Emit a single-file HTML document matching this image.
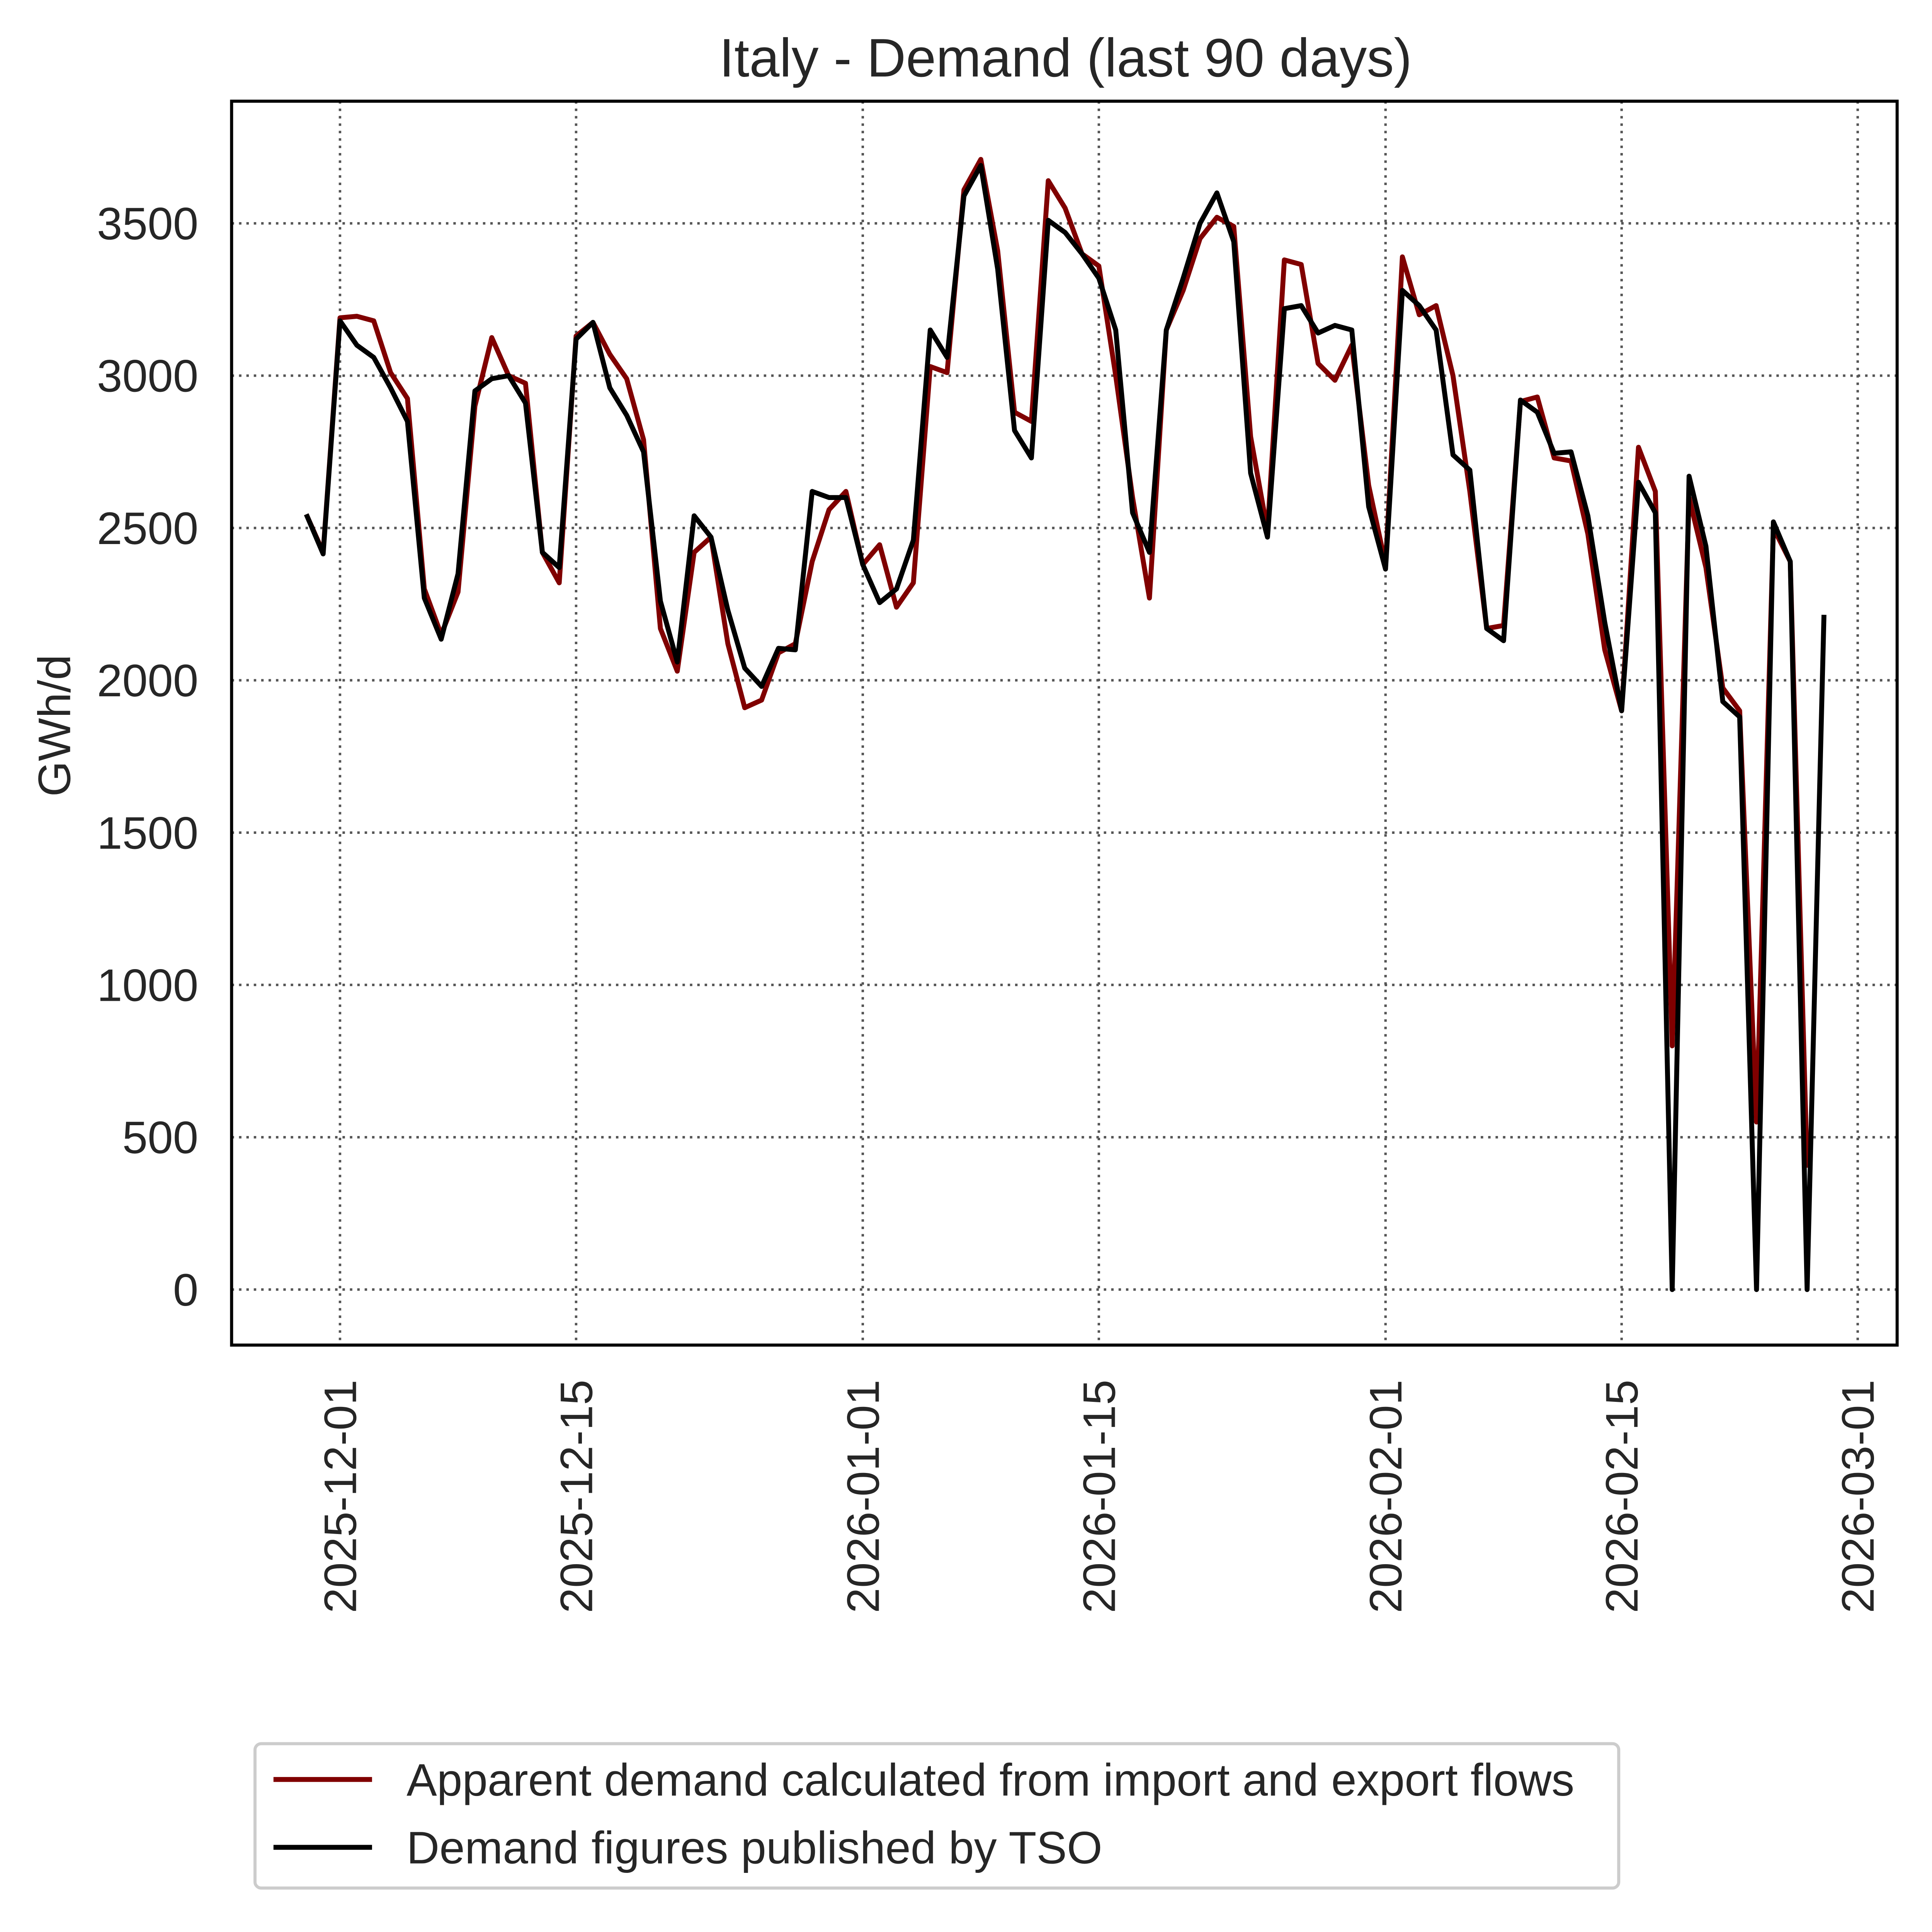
<!DOCTYPE html>
<html><head><meta charset="utf-8"><meta name="viewport" content="width=5749"><style>html,body{margin:0;padding:0;background:#fff;overflow:hidden}svg{display:block;width:98.96vw;height:98.62vw}text{font-family:"Liberation Sans",sans-serif;fill:#262626}</style></head>
<body>
<svg id="chart" viewBox="0 0 1552 1544" preserveAspectRatio="none" xmlns="http://www.w3.org/2000/svg">
<rect width="1552" height="1544" fill="#fff"/>
<text x="865" y="62" font-size="44" text-anchor="middle">Italy - Demand (last 90 days)</text>
<text transform="translate(57,588) rotate(-90)" font-size="37" text-anchor="middle">GWh/d</text>
<g id="grid"></g><g id="series"></g><g id="ticks"></g>
<rect x="188" y="82" width="1352" height="1008" fill="none" stroke="#000" stroke-width="2.5"/>
<g>
<rect x="207" y="1413" width="1107" height="117" rx="5" fill="#fff" stroke="#ccc" stroke-width="2.5"/>
<line x1="222" y1="1442" x2="302" y2="1442" stroke="#800000" stroke-width="4"/>
<text x="330" y="1455" font-size="37">Apparent demand calculated from import and export flows</text>
<line x1="222" y1="1497" x2="302" y2="1497" stroke="#000" stroke-width="4"/>
<text x="330" y="1510" font-size="37">Demand figures published by TSO</text>
</g>
</svg>
<script>
const yTicks=[0,500,1000,1500,2000,2500,3000,3500];
const xTickLabels=["2025-12-01","2025-12-15","2026-01-01","2026-01-15","2026-02-01","2026-02-15","2026-03-01"];
const xTickDays=[0,14,31,45,62,76,90];
const startDay=-2;
const tso=[2545,2415,3180,3100,3060,2960,2850,2270,2135,2350,2950,2990,3000,2910,2420,2370,3120,3175,2960,2870,2750,2260,2060,2540,2470,2230,2040,1980,2105,2100,2620,2600,2600,2380,2255,2300,2460,3150,3060,3590,3690,3350,2820,2730,3510,3470,3400,3320,3150,2550,2420,3150,3320,3500,3600,3440,2680,2470,3220,3230,3140,3165,3150,2570,2365,3280,3230,3150,2740,2690,2170,2130,2920,2880,2745,2750,2540,2190,1900,2650,2550,0,2670,2440,1930,1880,0,2520,2390,0,2215];
const apparent=[2545,2420,3190,3195,3180,3010,2925,2300,2150,2290,2900,3125,3000,2975,2420,2320,3130,3175,3070,2990,2790,2170,2030,2420,2470,2120,1910,1935,2090,2120,2390,2560,2620,2380,2445,2240,2320,3030,3010,3610,3710,3410,2880,2850,3640,3550,3400,3360,3000,2600,2270,3150,3280,3450,3520,3490,2800,2490,3380,3365,3040,2985,3100,2640,2380,3390,3200,3230,3000,2620,2170,2180,2915,2930,2730,2720,2480,2100,1900,2765,2620,800,2600,2370,1975,1900,550,2500,2390,400];
const NS="http://www.w3.org/2000/svg";
const xs=d=>276+d*(1508-276)/90;
const ys=v=>1045-v*(1045-181)/3500;
function mk(t,a,p){const e=document.createElementNS(NS,t);for(const k in a)e.setAttribute(k,a[k]);p.appendChild(e);return e;}
const grid=document.getElementById('grid'),ticks=document.getElementById('ticks'),ser=document.getElementById('series');
yTicks.forEach(v=>{
 const l=mk('line',{x1:188,x2:1540,y1:ys(v),y2:ys(v),stroke:'#555','stroke-width':2,'stroke-dasharray':'2,4'},grid);
 
 
 const t=mk('text',{x:161,y:ys(v)+13,'font-size':37,'text-anchor':'end'},ticks);t.textContent=v;
 
 
});
xTickDays.forEach((d,i)=>{
 const l=mk('line',{x1:xs(d),x2:xs(d),y1:82,y2:1090,stroke:'#555','stroke-width':2,'stroke-dasharray':'2,4'},grid);
 
 
 const t=mk('text',{transform:`translate(${xs(d)+13},1118) rotate(-90)`,'font-size':37,'text-anchor':'end'},ticks);t.textContent=xTickLabels[i];
 
 
});
function path(arr,col,name){
 const p=mk('polyline',{points:arr.map((v,i)=>xs(startDay+i)+','+ys(v)).join(' '),fill:'none',stroke:col,'stroke-width':4,'stroke-linejoin':'round'},ser);
 
 
}
path(apparent,'#800000','apparent-demand-line');
path(tso,'#000','tso-demand-line');
</script>
</body></html>
